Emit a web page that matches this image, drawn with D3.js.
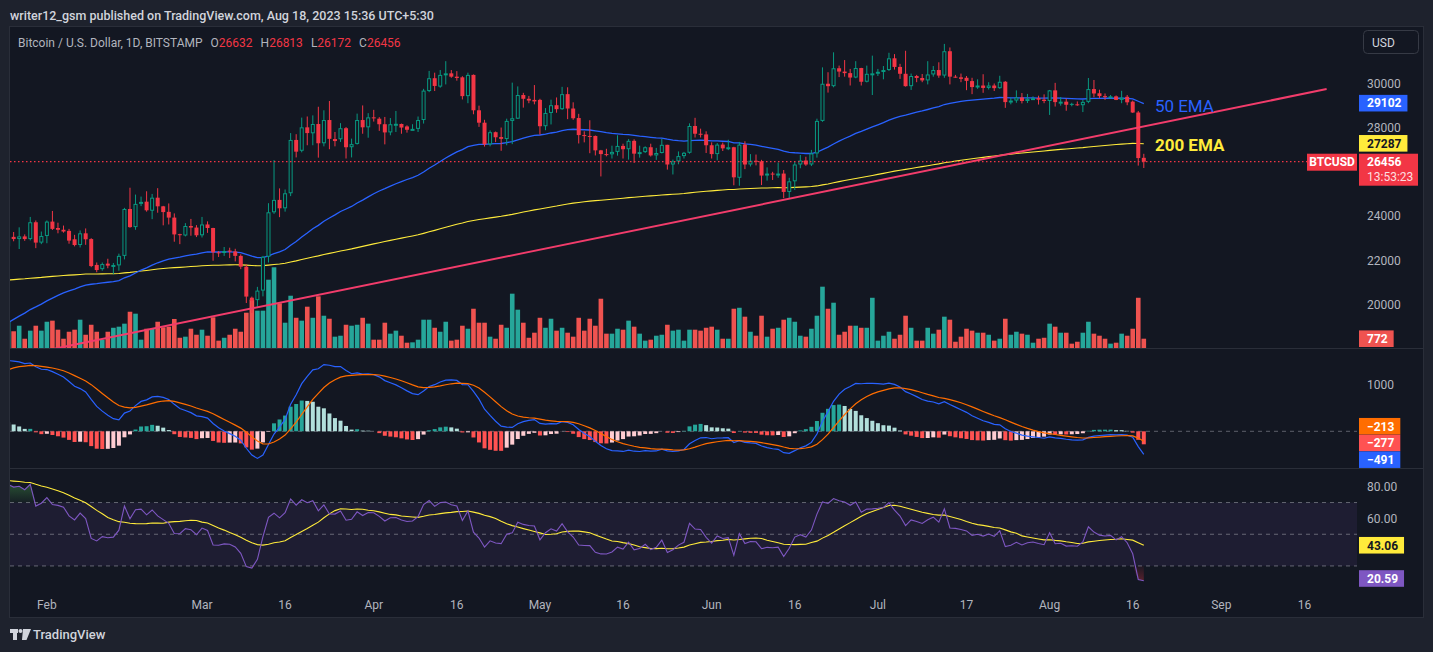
<!DOCTYPE html>
<html>
<head>
<meta charset="utf-8">
<script src="https://cdn.jsdelivr.net/npm/d3@7"></script>
<style>
  html, body { margin: 0; padding: 0; background: #1e222d; }
  svg { display: block; font-family: Roboto, "Liberation Sans", sans-serif; }
</style>
</head>
<body>
<div id="chart"></div>
<script>
// BTCUSD daily, Bitstamp, 25 Jan 2023 .. 18 Aug 2023 (one value per day)
const firstDay = "2023-01-25";

const opens = [
  22630,23060,22960,23080,22960,23720,22800,
  23100,23750,23460,23380,23330,22950,22690,23220,22960,21790,21600,21850,21760,21770,
  22200,24320,23500,24550,24650,24240,24830,24440,24190,23930,23180,23120,23550,23480,
  23130,23620,23460,22360,22340,22440,22400,22200,21710,20310,20200,20630,22160,24170,24730,24350,
  25030,27440,26950,28010,27740,28160,27290,28340,27450,27470,27970,27110,27260,28340,28010,
  28460,28400,28150,27780,28150,28160,28050,27910,27940,28340,29650,30230,29850,30380,30450,
  30300,30270,29420,30380,28780,28220,27240,27790,27570,27480,28300,28400,29470,29300,29250,
  29250,28060,28660,29010,28830,29510,28860,28430,27660,27620,27620,26970,26800,26790,26900,
  27170,27020,27400,26820,26890,27110,26740,26850,27220,26330,26470,26710,26860,28070,27720,27690,
  27200,26800,27230,27060,27110,25730,27230,26330,26500,26470,25830,25920,25890,25920,25090,
  25570,26330,26510,26330,26830,28300,29980,29870,30680,30530,30460,30260,30690,30070,30430,
  30450,30520,30600,31130,30740,30430,29870,30330,30240,30130,30400,30600,30350,31450,30300,
  30270,30250,30100,29830,29900,29790,29900,29780,30070,29150,29220,29360,29200,29300,29330,29260,
  29200,29680,29150,29170,29070,29050,29010,29160,29740,29550,29420,29390,29410,29250,29390,29170,28680,26632
];
const highs = [
  23780,23280,23490,23170,23960,23800,23300,
  23800,24230,23700,23570,23420,23150,23350,23440,23000,21900,21900,22070,21880,22300,
  24370,25280,24970,24880,25120,25000,25260,24460,24570,24120,23200,23680,23870,23590,
  23960,23760,23470,22420,22600,22570,22520,22270,21820,20360,20800,22200,24580,26530,25250,25200,
  27750,27700,28450,28500,28550,28940,28780,29200,27800,28200,28020,27500,28630,29000,28650,
  28800,28470,28480,28430,28750,28180,28100,28150,28500,29750,30560,30480,30600,31000,30600,
  30550,30320,30480,30400,28990,28350,27870,27820,28000,28400,30030,29860,29570,29430,29920,
  29300,28880,29260,29360,29840,29820,29140,28620,27830,28330,27640,26990,27040,27180,27650,
  27270,27480,27470,27180,27150,27270,27080,27490,27220,26550,26920,26900,28190,28440,27950,27830,
  27330,27300,27320,27450,27130,27350,27380,26800,26780,26540,26200,26000,26420,26080,25730,
  26450,26760,26680,26990,28400,30720,30500,31400,30800,31050,30650,31000,30700,30800,31250,
  30650,30780,31380,31320,30880,31470,30440,30380,30420,31000,30780,30950,31780,31620,30380,
  30440,30330,30250,30180,30410,30050,29990,30340,30100,29350,29680,29560,29520,29410,29440,29500,
  29700,30020,29380,29310,29120,29180,29250,30240,30150,29710,29540,29470,29450,29660,29470,29220,28750,26813
];
const lows = [
  22350,22860,22510,22880,22900,22550,22730,
  22770,23370,23220,23250,22750,22630,22580,22700,21690,21460,21530,21640,21370,21530,
  22040,23470,23380,24450,24200,23860,24150,23580,23620,22840,22730,23080,23110,23050,
  23030,23240,21980,22150,22200,22100,21950,21600,20070,19620,19900,20370,21900,24100,23950,24200,
  24900,26650,26880,27200,27200,26640,27150,27020,27150,27350,26600,26650,27230,27720,27540,
  28270,27850,27240,27650,27800,27720,27770,27880,27800,28180,29600,29650,29800,29950,30250,
  30120,29270,29100,28600,28030,27140,27150,27340,26950,27200,27250,28390,28900,29100,29050,
  27680,27880,28140,28670,28800,28380,28350,27280,27330,26840,26740,25790,26700,26600,26730,
  26600,26550,26400,26640,26850,26690,26540,26830,26100,25880,26340,26600,26820,27550,27550,26850,
  26600,26520,26940,26980,25390,25370,26120,26240,26290,25400,25600,25630,25730,24810,24800,
  25180,26160,26270,26260,26640,28260,29580,29820,30280,30300,29900,30230,29900,30040,29470,
  30330,30180,30560,30620,30200,29850,29700,30050,30050,29950,30300,30250,30250,29950,30250,
  30050,29690,29510,29750,29570,29720,29650,29750,28890,29050,29120,29090,29110,29260,29040,29100,
  28570,28950,28990,28760,28960,28980,28700,29100,29370,29330,29250,29350,29240,29100,29010,28660,26280,26172
];
const closes = [
  23060,22960,23080,22960,23720,22800,23100,
  23750,23420,23380,23300,22890,22690,23220,22950,21740,21560,21830,21760,21790,22200,
  24320,23500,24550,24640,24260,24830,24440,24180,23930,23170,23150,23550,23480,23130,
  23620,23460,22360,22340,22420,22390,22200,21710,20360,20170,20630,22160,24170,24730,24350,25030,
  27440,26910,28010,27750,28160,27290,28340,27490,27480,27970,27110,27250,28340,28010,28460,
  28440,28150,27780,28150,28170,28000,27900,27940,28340,29670,30230,29880,30380,30450,30300,
  30240,29420,30380,28780,28220,27240,27790,27560,27490,28300,28420,29470,29300,29220,29180,
  28060,28660,29010,28830,29510,28860,28420,27660,27620,27600,26970,26800,26790,26900,27170,
  27020,27400,26820,26890,27110,26740,26850,27220,26330,26470,26710,26860,28070,27720,27690,27200,
  26800,27230,27060,27110,25750,27230,26330,26500,26470,25830,25920,25890,25920,25090,25570,
  26330,26510,26330,26830,28300,29980,29870,30680,30530,30460,30260,30690,30070,30430,30450,
  30520,30600,31130,30740,30430,29870,30330,30240,30130,30400,30600,30350,31450,30300,30270,
  30200,30110,29830,29900,29790,29900,29780,30070,29150,29220,29360,29200,29300,29330,29260,29200,
  29680,29150,29170,29030,29040,29020,29160,29740,29540,29420,29390,29410,29250,29350,29140,28680,26620,26456
];
const volumes = [
  2220,1390,1850,770,1440,1850,1440,
  2180,2270,1520,770,1350,1520,2350,1100,1930,1350,690,1350,1680,1770,
  2020,3010,2850,690,1600,1600,2180,1720,1770,2410,850,940,1600,1100,
  1520,1020,2550,610,850,1100,1600,1350,2930,4010,3100,3100,5670,6700,3710,2100,
  4340,2510,2270,3430,2510,4290,2680,2430,940,1020,1930,1850,1930,2510,2020,
  690,690,2100,1190,1440,1020,440,470,690,2350,2350,1680,1350,2180,610,
  690,1850,1600,3260,2100,2100,940,770,1930,1680,4510,3180,2100,850,1270,
  2510,1680,2430,1440,1680,1270,940,2510,1440,2430,1850,4090,1190,1190,1600,
  1520,2270,1770,1190,610,690,1020,1100,1930,1440,1520,610,1520,1520,1440,1680,
  1770,1520,770,770,3260,3340,2600,1350,1020,2680,940,1600,1680,2350,2510,
  2180,1020,940,1600,2680,5090,3260,3760,1100,1350,1850,1850,1680,1680,4170,
  610,1020,1350,770,1100,2680,1680,610,610,1680,1190,1520,2600,2350,520,
  940,1600,1440,1270,1270,1100,610,770,2430,1100,1350,1190,1100,440,770,850,
  2020,1770,1270,1270,360,520,1270,2180,1190,1020,770,360,440,1190,1020,1600,4170,772
];

const emaSeed50 = 19180;
const emaSeed200 = 21110;
const macdSeedFast = 21700;   // EMA 12
const macdSeedSlow = 20195;   // EMA 26
const macdSeedSignal = 1313;
const rsiSeedGain = 300;
const rsiSeedLoss = 68.5;
const rsiSeedMa = 84;

// last values printed on the scales
const lastEma50 = 29102, lastEma200 = 27287;
const lastMacd = -491, lastSignal = -213, lastHist = -277;
const lastRsi = 20.59, lastRsiMa = 43.06;
const lastVolume = 772, lastClose = 26456;
const countdown = "13:53:23";

// hand drawn trend line and notes
const trendDates = ["2023-01-20", "2023-09-20"];
const trendPrices = [17320, 29740];
const noteTexts = ["50 EMA", "200 EMA"];
const noteDates = ["2023-08-20", "2023-08-20"];
const notePrices = [28700, 26960];

// scale ticks
const dateTicks = ["2023-02-01","2023-03-01","2023-03-16","2023-04-01","2023-04-16","2023-05-01",
  "2023-05-16","2023-06-01","2023-06-16","2023-07-01","2023-07-17","2023-08-01","2023-08-16",
  "2023-09-01","2023-09-16"];
const priceTicks = [20000, 22000, 24000, 28000, 30000];
const macdTicks = [1000];
const rsiTicks = [60, 80];
const rsiLevels = [70, 50, 30];

// ---------------------------------------------------------------
const W = 1433, H = 652;
const plotL = 10, plotR = 1357, axisX = 1367, boxX = 1359;
const pricePane = {top: 27, bottom: 348};
const macdPane = {top: 349, bottom: 468};
const rsiPane = {top: 469, bottom: 592};

const green = "#089981", red = "#f23645", bg = "#131722";
const tickColor = "#b2b5be";

const parse = d3.utcParse("%Y-%m-%d");
const day0 = parse(firstDay);
const dates = closes.map((c, i) => d3.utcDay.offset(day0, i));

// time scale: Mar 1 sits at x=202, 5.54 px per day
const x = d3.scaleUtc()
  .domain([parse("2023-03-01"), parse("2023-03-02")])
  .range([202, 207.54]);
const y = d3.scaleLinear().domain([20000, 30000]).range([304.55, 83.3]);
const yMacd = d3.scaleLinear().domain([0, 1000]).range([431.3, 384.3]);
const yRsi = d3.scaleLinear().domain([60, 80]).range([518.4, 486.7]);
const yVol = d3.scaleLinear().domain([0, d3.max(volumes)]).range([pricePane.bottom, pricePane.bottom - 80.7]);

// indicators
function ema(values, period, seed) {
  const k = 2 / (period + 1);
  const out = [seed];
  for (let i = 1; i < values.length; i++) out.push(k * values[i] + (1 - k) * out[i - 1]);
  return out;
}
const ema50 = ema(closes, 50, emaSeed50);
const ema200 = ema(closes, 200, emaSeed200);
const fast = ema(closes, 12, macdSeedFast);
const slow = ema(closes, 26, macdSeedSlow);
const macd = fast.map((f, i) => f - slow[i]);
const signal = ema(macd, 9, macdSeedSignal);
const hist = macd.map((m, i) => m - signal[i]);

const rsi = [];
let gain = rsiSeedGain, loss = rsiSeedLoss;
closes.forEach((c, i) => {
  if (i > 0) {
    const ch = c - closes[i - 1];
    gain = (gain * 13 + Math.max(ch, 0)) / 14;
    loss = (loss * 13 + Math.max(-ch, 0)) / 14;
  }
  rsi.push(100 - 100 / (1 + gain / loss));
});
const rsiWindow = d3.range(13).map(() => rsiSeedMa).concat(rsi);
const rsiMa = rsi.map((r, i) => d3.mean(rsiWindow.slice(i, i + 14)));

// ---------------------------------------------------------------
const svg = d3.select("#chart").append("svg").attr("width", W).attr("height", H);

svg.append("rect").attr("width", W).attr("height", H).attr("fill", "#1e222d");
svg.append("rect").attr("x", 9.5).attr("y", 26.5).attr("width", 1414).attr("height", 591)
  .attr("fill", bg).attr("stroke", "#2a2e39");

const defs = svg.append("defs");
function clip(id, pane) {
  defs.append("clipPath").attr("id", id).append("rect")
    .attr("x", plotL).attr("y", pane.top).attr("width", plotR - plotL).attr("height", pane.bottom - pane.top);
}
clip("clipPrice", pricePane);
clip("clipMacd", macdPane);
clip("clipRsi", rsiPane);

// pane separators
[348.5, 468.5].forEach(v => svg.append("line")
  .attr("x1", 10).attr("x2", 1423).attr("y1", v).attr("y2", v)
  .attr("stroke", "#2a2e39").attr("stroke-width", 1.2));

// header
svg.append("text").attr("x", 10).attr("y", 19.5)
  .attr("fill", "#d1d4dc").style("font-size", "12.5px").style("font-weight", 500)
  .text("writer12_gsm published on TradingView.com, Aug 18, 2023 15:36 UTC+5:30");

const title = svg.append("text").attr("x", 18).attr("y", 46.5).style("font-size", "12px").attr("fill", "#b2b5be");
title.append("tspan").text("Bitcoin / U.S. Dollar, 1D, BITSTAMP");
[["O", opens], ["H", highs], ["L", lows], ["C", closes]].forEach(([k, arr]) => {
  title.append("tspan").attr("dx", 8).text(k);
  title.append("tspan").attr("fill", red).text(arr[arr.length - 1]);
});

// ---------------- price pane ----------------
const gp = svg.append("g").attr("clip-path", "url(#clipPrice)");

// volume
gp.selectAll(".vol").data(volumes).enter().append("rect")
  .attr("x", (v, i) => x(dates[i]) - 2.3)
  .attr("width", 4.6)
  .attr("y", v => yVol(v))
  .attr("height", v => yVol(0) - yVol(v))
  .attr("fill", (v, i) => closes[i] >= opens[i] ? "#26a69a" : "#ef5350");

// moving averages
const priceLine = d3.line().x((v, i) => x(dates[i])).y(v => y(v));
gp.append("path").attr("d", priceLine(ema200)).attr("fill", "none")
  .attr("stroke", "#ffeb3b").attr("stroke-width", 1.1);
gp.append("path").attr("d", priceLine(ema50)).attr("fill", "none")
  .attr("stroke", "#2962ff").attr("stroke-width", 1.3);

// candles (hollow style)
const candle = gp.selectAll(".candle").data(closes).enter().append("g");
const cColor = (c, i) => c >= (i > 0 ? closes[i - 1] : opens[i]) ? green : red;
candle.append("line")
  .attr("x1", (c, i) => x(dates[i])).attr("x2", (c, i) => x(dates[i]))
  .attr("y1", (c, i) => y(highs[i])).attr("y2", (c, i) => y(lows[i]))
  .attr("stroke", cColor).attr("stroke-width", 1);
candle.append("rect")
  .attr("x", (c, i) => x(dates[i]) - (c > opens[i] ? 1.5 : 2))
  .attr("width", (c, i) => c > opens[i] ? 3 : 4)
  .attr("y", (c, i) => y(Math.max(c, opens[i])) + (c > opens[i] ? 0.5 : 0))
  .attr("height", (c, i) => Math.max(1, Math.abs(y(c) - y(opens[i])) - (c > opens[i] ? 1 : 0)))
  .attr("fill", (c, i) => c > opens[i] ? bg : cColor(c, i))
  .attr("stroke", (c, i) => c > opens[i] ? cColor(c, i) : "none")
  .attr("stroke-width", 1);

// trend line
gp.append("path")
  .attr("d", d3.line()(trendDates.map((d, i) => [x(parse(d)), y(trendPrices[i])])))
  .attr("stroke", "#f23c6b").attr("stroke-width", 2).attr("fill", "none");

// last price line
gp.append("line").attr("x1", plotL).attr("x2", 1307).attr("y1", y(lastClose)).attr("y2", y(lastClose))
  .attr("stroke", red).attr("stroke-dasharray", "1.5,2.5").attr("stroke-width", 1.3);

// notes
noteTexts.forEach((t, i) => {
  svg.append("text").attr("x", x(parse(noteDates[i]))).attr("y", y(notePrices[i]))
    .attr("fill", i === 0 ? "#2962ff" : "#ffeb3b")
    .style("font-size", "17px").style("font-weight", i === 0 ? 400 : 700)
    .text(t);
});

// ---------------- MACD pane ----------------
const gm = svg.append("g").attr("clip-path", "url(#clipMacd)");
gm.append("line").attr("x1", plotL).attr("x2", plotR).attr("y1", yMacd(0)).attr("y2", yMacd(0))
  .attr("stroke", "#5d606b").attr("stroke-dasharray", "4,4");
gm.selectAll(".hist").data(hist).enter().append("rect")
  .attr("x", (h, i) => x(dates[i]) - 2)
  .attr("width", 4)
  .attr("y", h => Math.min(yMacd(h), yMacd(0)))
  .attr("height", h => Math.abs(yMacd(h) - yMacd(0)))
  .attr("fill", (h, i) => {
    const p = i > 0 ? hist[i - 1] : h;
    if (h >= 0) return h > p ? "#26a69a" : "#b2dfdb";
    return h < p ? "#ff5252" : "#ffcdd2";
  });
const macdLine = d3.line().x((v, i) => x(dates[i])).y(v => yMacd(v));
gm.append("path").attr("d", macdLine(macd)).attr("fill", "none").attr("stroke", "#2962ff").attr("stroke-width", 1.2);
gm.append("path").attr("d", macdLine(signal)).attr("fill", "none").attr("stroke", "#ff6d00").attr("stroke-width", 1.2);

// ---------------- RSI pane ----------------
const gr = svg.append("g").attr("clip-path", "url(#clipRsi)");
gr.append("rect").attr("x", plotL).attr("width", plotR - plotL)
  .attr("y", yRsi(70)).attr("height", yRsi(30) - yRsi(70))
  .attr("fill", "#7e57c2").attr("fill-opacity", 0.1);
rsiLevels.forEach(v => gr.append("line").attr("x1", plotL).attr("x2", plotR)
  .attr("y1", yRsi(v)).attr("y2", yRsi(v))
  .attr("stroke", "#787b86").attr("stroke-opacity", 0.8).attr("stroke-dasharray", "4,4"));

const gradUp = defs.append("linearGradient").attr("id", "gUp").attr("gradientUnits", "userSpaceOnUse")
  .attr("x1", 0).attr("x2", 0).attr("y1", yRsi(70)).attr("y2", yRsi(90));
gradUp.append("stop").attr("offset", 0).attr("stop-color", "#4caf50").attr("stop-opacity", 0.05);
gradUp.append("stop").attr("offset", 1).attr("stop-color", "#4caf50").attr("stop-opacity", 0.6);
const gradDn = defs.append("linearGradient").attr("id", "gDn").attr("gradientUnits", "userSpaceOnUse")
  .attr("x1", 0).attr("x2", 0).attr("y1", yRsi(30)).attr("y2", yRsi(10));
gradDn.append("stop").attr("offset", 0).attr("stop-color", "#f23645").attr("stop-opacity", 0.05);
gradDn.append("stop").attr("offset", 1).attr("stop-color", "#f23645").attr("stop-opacity", 0.6);

gr.append("path").attr("fill", "url(#gUp)")
  .attr("d", d3.area().x((v, i) => x(dates[i])).y0(yRsi(70)).y1(v => yRsi(Math.max(v, 70)))(rsi));
gr.append("path").attr("fill", "url(#gDn)")
  .attr("d", d3.area().x((v, i) => x(dates[i])).y0(yRsi(30)).y1(v => yRsi(Math.min(v, 30)))(rsi));

const rsiLine = d3.line().x((v, i) => x(dates[i])).y(v => yRsi(v));
gr.append("path").attr("d", rsiLine(rsiMa)).attr("fill", "none").attr("stroke", "#ffeb3b").attr("stroke-width", 1.1);
gr.append("path").attr("d", rsiLine(rsi)).attr("fill", "none").attr("stroke", "#7e57c2").attr("stroke-width", 1.1);

// ---------------- axes ----------------
const axisText = (v, yy) => svg.append("text").attr("x", axisX).attr("y", yy + 4.3)
  .attr("fill", tickColor).style("font-size", "12px").text(v);
priceTicks.forEach(v => axisText(v, y(v)));
macdTicks.forEach(v => axisText(v, yMacd(v)));
rsiTicks.forEach(v => axisText(d3.format(".2f")(v), yRsi(v)));

const tickFmt = d => d.getUTCDate() === 1 ? d3.utcFormat("%b")(d) : d3.utcFormat("%-d")(d);
svg.selectAll(".xt").data(dateTicks).enter().append("text")
  .attr("x", d => x(parse(d))).attr("y", 608.5)
  .attr("text-anchor", "middle").attr("fill", tickColor).style("font-size", "12px")
  .text(d => tickFmt(parse(d)));

// USD button
svg.append("rect").attr("x", 1363.5).attr("y", 30.5).attr("width", 55).attr("height", 23).attr("rx", 4)
  .attr("fill", "none").attr("stroke", "#363a45");
svg.append("text").attr("x", 1372).attr("y", 46.5).attr("fill", "#d1d4dc").style("font-size", "12px").text("USD");

// value labels on the scale
const minus = v => String(v).replace("-", "\u2212");
function valueLabel(yc, text, fill, color) {
  const g = svg.append("g");
  const t = g.append("text").attr("x", axisX).attr("y", yc + 4.3).attr("fill", color)
    .style("font-size", "12px").style("font-weight", 700).text(text);
  const w = t.node().getComputedTextLength();
  g.insert("rect", "text").attr("x", boxX).attr("y", yc - 8.3).attr("width", axisX - boxX + w + 6)
    .attr("height", 16.6).attr("fill", fill);
}
function stack(items, h, top, bottom) {
  items.sort((a, b) => a.y - b.y);
  let groups = items.map(it => ({items: [it], c: it.y}));
  let merged = true;
  while (merged) {
    merged = false;
    for (let i = 0; i < groups.length - 1; i++) {
      const a = groups[i], b = groups[i + 1];
      if (a.c + a.items.length * h / 2 > b.c - b.items.length * h / 2) {
        const all = a.items.concat(b.items);
        groups.splice(i, 2, {items: all, c: d3.mean(all, d => d.y)});
        merged = true;
        break;
      }
    }
  }
  groups.forEach(g => {
    let t = g.c - g.items.length * h / 2;
    t = Math.max(top, Math.min(bottom - g.items.length * h, t));
    g.items.forEach((it, k) => { it.yc = t + h * k + h / 2; });
  });
  return items;
}

valueLabel(y(lastEma50), lastEma50, "#2962ff", "#fff");
valueLabel(y(lastEma200), lastEma200, "#ffeb3b", "#131722");

// last price box with countdown
const lp = y(lastClose);
svg.append("rect").attr("x", boxX).attr("y", lp - 8).attr("width", 59).attr("height", 32).attr("fill", red);
svg.append("text").attr("x", axisX).attr("y", lp + 4.5).attr("fill", "#fff")
  .style("font-size", "12px").style("font-weight", 700).text(lastClose);
svg.append("text").attr("x", axisX).attr("y", lp + 19.5).attr("fill", "#fff").attr("fill-opacity", 0.85)
  .style("font-size", "12px").text(countdown);
svg.append("rect").attr("x", 1307).attr("y", lp - 8).attr("width", 50).attr("height", 17).attr("fill", red);
svg.append("text").attr("x", 1332).attr("y", lp + 4.5).attr("text-anchor", "middle").attr("fill", "#fff")
  .style("font-size", "12px").style("font-weight", 700).text("BTCUSD");

valueLabel(Math.min(yVol(lastVolume), pricePane.bottom - 8.5), lastVolume, "#ef5350", "#fff");

stack([
  {y: yMacd(lastSignal), text: minus(lastSignal), fill: "#ff6d00"},
  {y: yMacd(lastHist), text: minus(lastHist), fill: "#ff5252"},
  {y: yMacd(lastMacd), text: minus(lastMacd), fill: "#2962ff"}
], 16.7, macdPane.top, macdPane.bottom).forEach(l => valueLabel(l.yc, l.text, l.fill, "#fff"));

valueLabel(yRsi(lastRsiMa), d3.format(".2f")(lastRsiMa), "#ffeb3b", "#131722");
valueLabel(Math.min(yRsi(lastRsi), 578.5), d3.format(".2f")(lastRsi), "#7e57c2", "#fff");

// footer logo
const logo = svg.append("g").attr("fill", "#d1d4dc");
logo.append("rect").attr("x", 10).attr("y", 629).attr("width", 8).attr("height", 4);
logo.append("rect").attr("x", 13).attr("y", 629).attr("width", 4).attr("height", 11);
logo.append("circle").attr("cx", 20.5).attr("cy", 631).attr("r", 2);
logo.append("path").attr("d", "M23,629 L31,629 L26.5,640 L22,640 Z");
svg.append("text").attr("x", 33).attr("y", 639).attr("fill", "#d1d4dc")
  .style("font-size", "13px").style("font-weight", 500).text("TradingView");
</script>
</body>
</html>
